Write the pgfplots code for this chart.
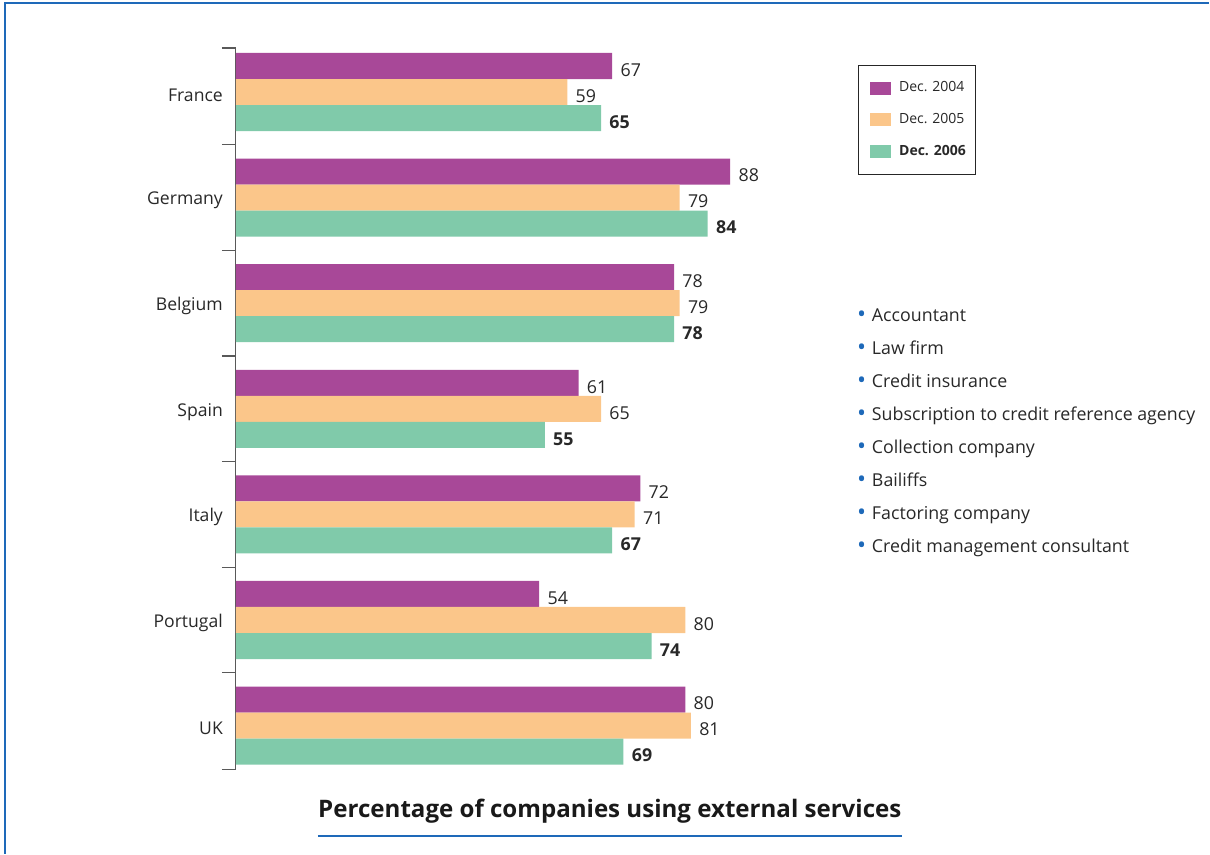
\documentclass[border=0pt]{standalone}
\usepackage{pgfplots}
\pgfplotsset{compat=1.18}
\usepackage{fontspec}
\setmainfont{Open Sans}
\definecolor{cpur}{RGB}{168,72,152}
\definecolor{cora}{RGB}{251,198,138}
\definecolor{cgre}{RGB}{128,202,170}
\definecolor{cblue}{RGB}{30,105,185}
\definecolor{ctext}{RGB}{40,40,40}
\begin{document}
\begin{tikzpicture}[x=1pt,y=1pt]
\path (0,0) rectangle (605,-427);
\draw[cblue, line width=0.6pt] (2.5,-427) -- (2.5,-1.5) -- (605,-1.5);
\begin{axis}[
  at={(118pt,-24pt)}, anchor=north west,
  scale only axis, width=281pt, height=361pt,
  xmin=0, xmax=100, ymin=-0.417, ymax=6.417,
  y dir=reverse,
  axis x line=none, axis y line*=left,
  y axis line style={gray!70!black, line width=0.6pt, -},
  ytick={-0.417,0.5,1.5,2.5,3.5,4.5,5.5,6.417},
  yticklabels={},
  major tick length=7pt, tick align=outside,
  ytick style={gray!70!black, line width=0.6pt},
  extra y ticks={0,1,2,3,4,5,6},
  extra y tick labels={France,Germany,Belgium,Spain,Italy,Portugal,UK},
  extra y tick style={major tick length=0pt, yticklabel style={xshift=-3pt, yshift=-1.5pt}},
  yticklabel style={font=\fontsize{8.8}{11}\selectfont, text=ctext},
  /pgf/number format/assume math mode=true,
  xbar, bar width=0.2464,
  point meta=x,
  nodes near coords,
  nodes near coords style={anchor=west, inner sep=0pt, xshift=4pt, yshift=-2pt, font=\fontsize{8.9}{11}\selectfont, text=ctext},
  legend style={at={(1.1068,0.9765)}, anchor=north west, draw=black!85, line width=0.6pt,
    font=\fontsize{7.0}{9}\selectfont, text=ctext, row sep=5.3pt, inner xsep=3pt, inner ysep=6pt,
    cells={anchor=west}, /tikz/every odd column/.append style={column sep=2pt}},
  legend image code/.code={\path (0pt,0pt); \draw[#1, draw=none] (3pt,-3.25pt) rectangle (13.5pt,3.25pt);},
  clip=false,
]
\addplot[fill=cpur, draw=none, bar shift=-0.2464] coordinates {(67,0) (88,1) (78,2) (61,3) (72,4) (54,5) (80,6)};
\addplot[fill=cora, draw=none, bar shift=0] coordinates {(59,0) (79,1) (79,2) (65,3) (71,4) (80,5) (81,6)};
\addplot[fill=cgre, draw=none, bar shift=0.2464, nodes near coords style={font=\fontsize{8.9}{11}\selectfont\bfseries}] coordinates {(65,0) (84,1) (78,2) (55,3) (67,4) (74,5) (69,6)};
\legend{Dec. 2004, Dec. 2005, \textbf{Dec. 2006}}
\end{axis}
\foreach \t [count=\i from 0] in {Accountant, Law firm, Credit insurance, Subscription to credit reference agency, Collection company, Bailiffs, Factoring company, Credit management consultant} {
  \node[anchor=base west, inner sep=0pt, text=ctext, font=\fontsize{8.9}{11}\selectfont] at (436, {-161-16.5*\i}) {\t};
  \node[anchor=base, inner sep=0pt, text=cblue, font=\fontsize{12}{12}\selectfont] at (431, {-161.5-16.5*\i}) {•};
}
\node[anchor=base west, inner sep=0pt, text=black!90, font=\fontsize{12.05}{14}\selectfont\bfseries] at (159,-409) {Percentage of companies using external services};
\draw[cblue, line width=1pt] (159,-418) -- (451,-418);
\end{tikzpicture}
\end{document}
